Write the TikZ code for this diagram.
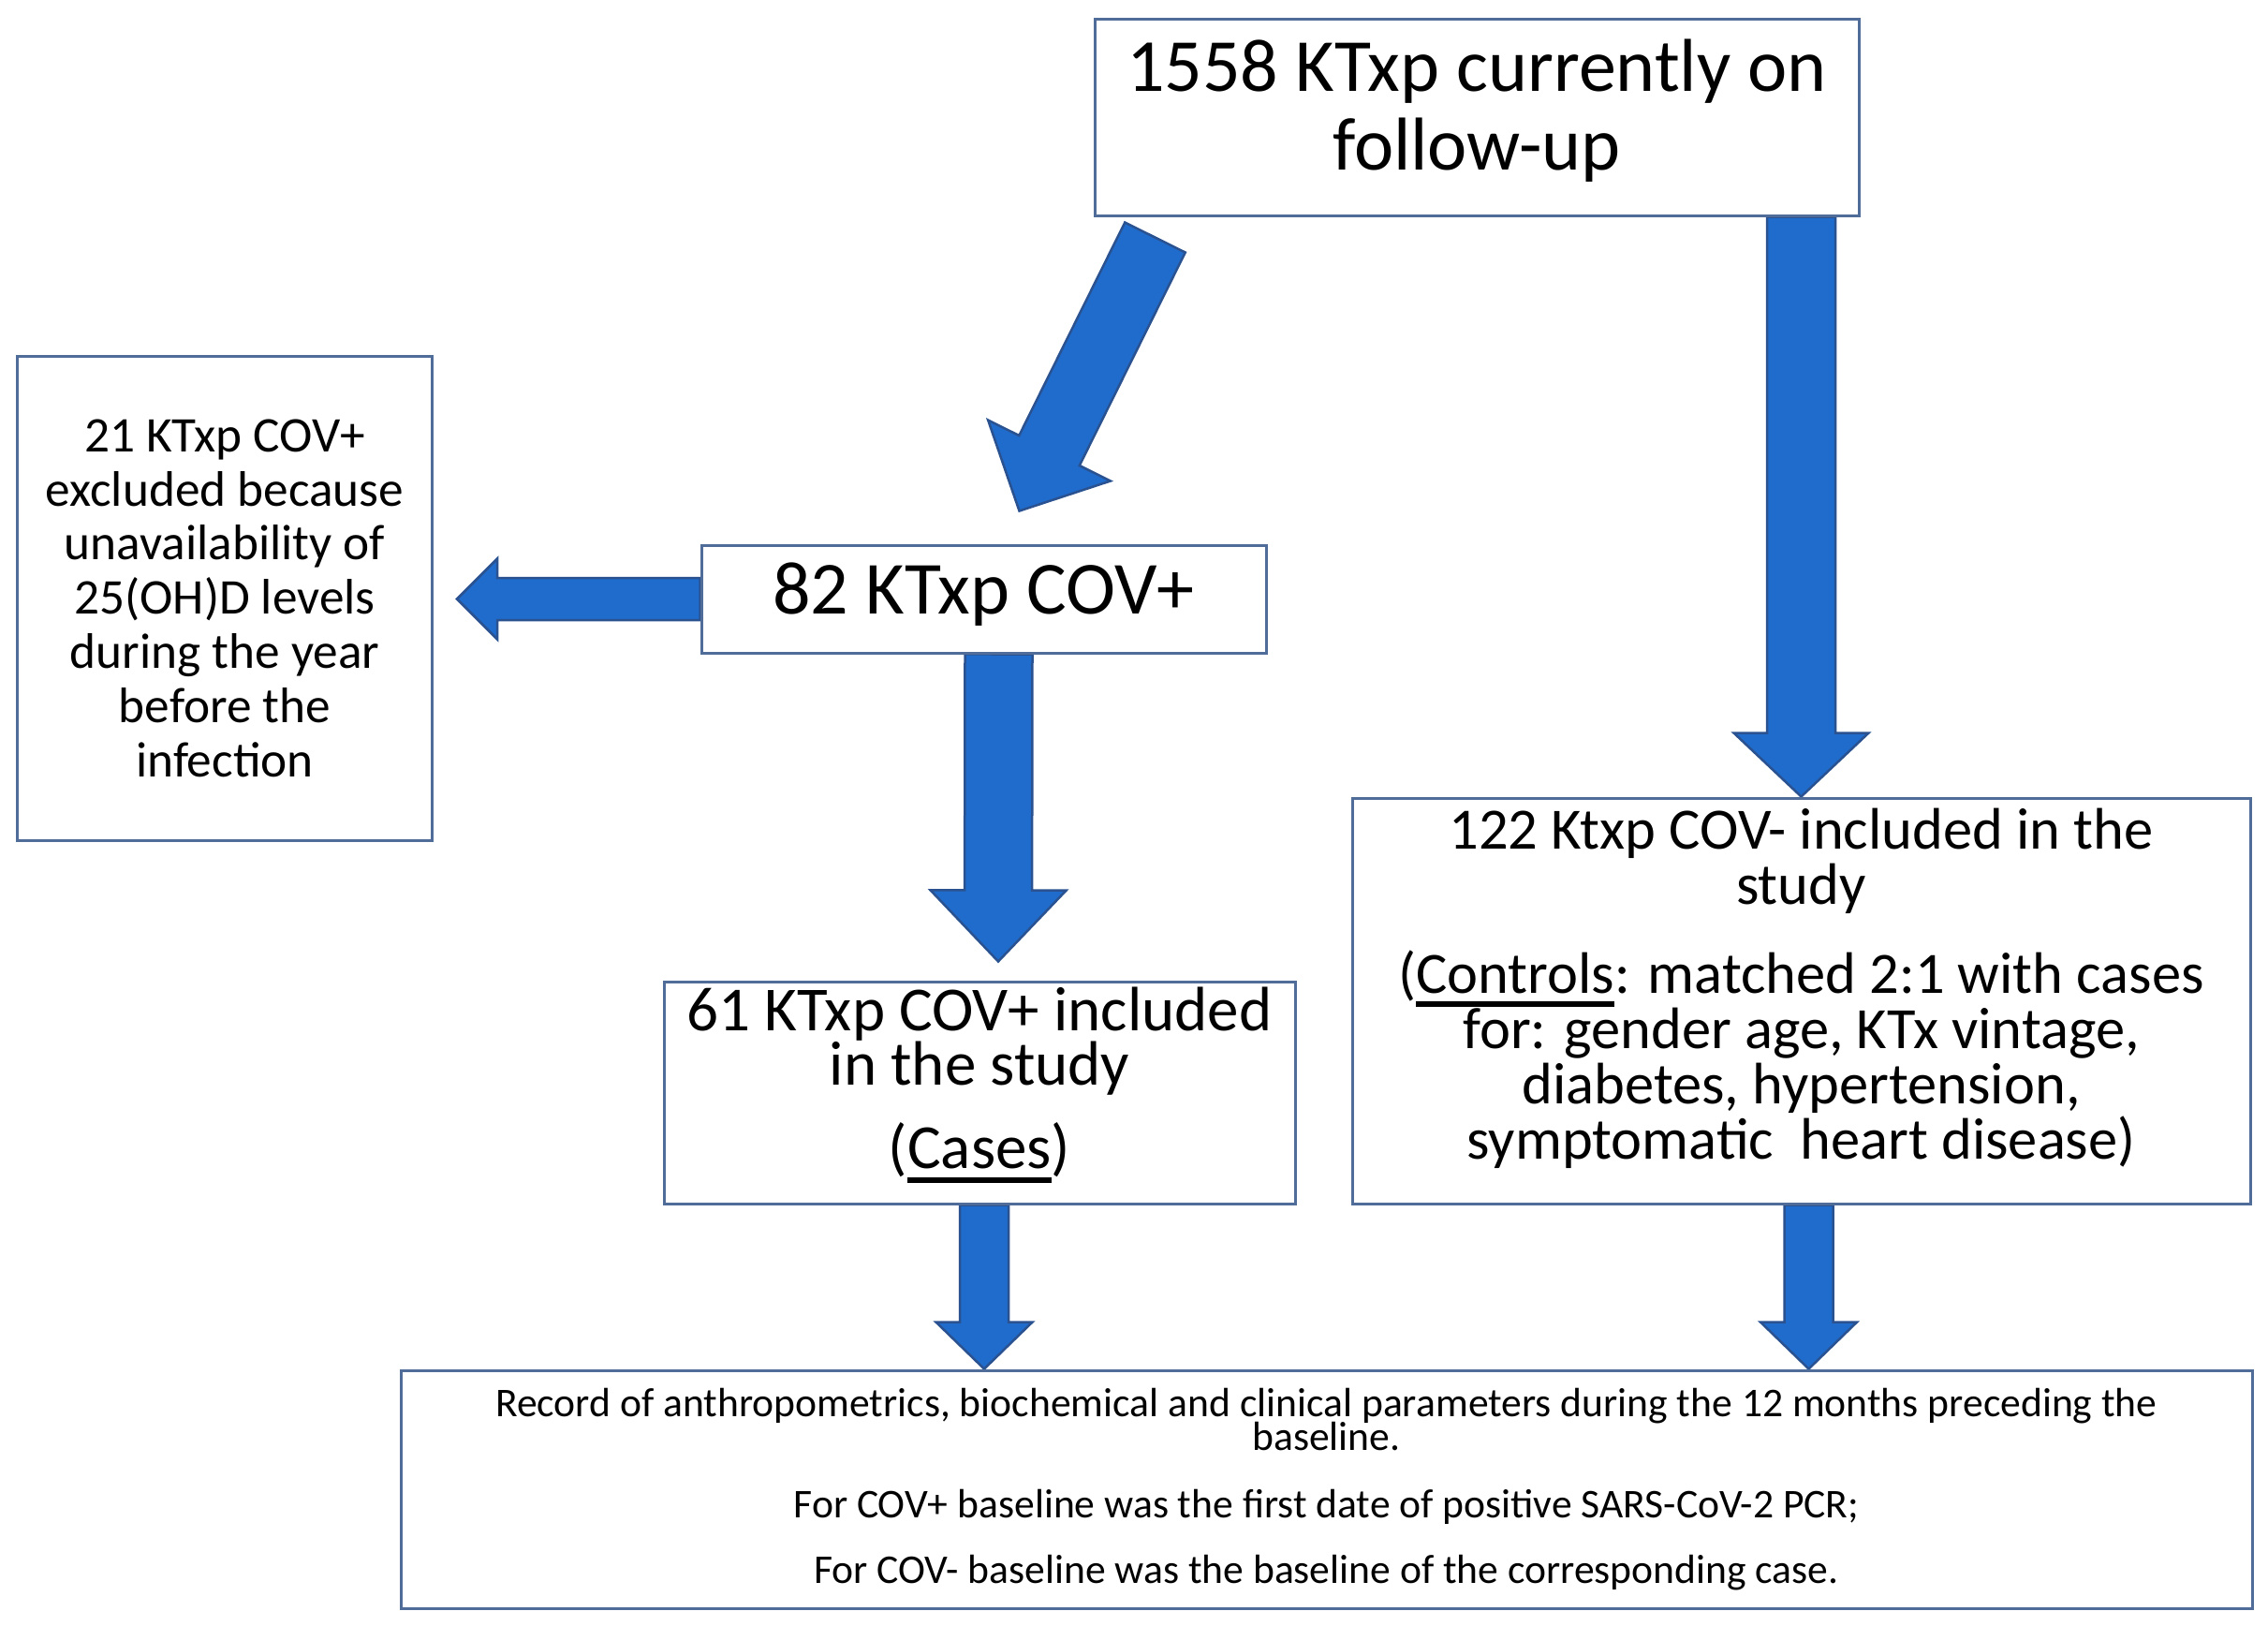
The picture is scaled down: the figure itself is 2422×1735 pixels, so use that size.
\documentclass[tikz,border=0pt]{standalone}
\usepackage{fontspec}
\setmainfont{Carlito}
\usetikzlibrary{calc}
\pgfdeclarelayer{back}
\pgfdeclarelayer{bg}
\pgfsetlayers{back,bg,main}
\definecolor{arrowblue}{RGB}{31,108,204}
\definecolor{arrowedge}{RGB}{42,82,145}
\definecolor{boxedge}{RGB}{80,108,152}
\newcommand\ulin[1]{\setbox0=\hbox{#1}\rlap{\rule[-0.24em]{\wd0}{0.1em}}\box0}
\newcommand\lowstrut[1]{\rule[-#1]{0pt}{0pt}}
\newcommand\blockarrow[5]{% start, tip, half shaft, half head, head length
  \coordinate (ba-n) at ($(#2)!#5!(#1)$);
  \path[arrowfill] ($(#1)!#3!90:(#2)$) -- ($(ba-n)!#3!90:(#2)$) -- ($(ba-n)!#4!90:(#2)$) -- (#2)
    -- ($(ba-n)!#4!-90:(#2)$) -- ($(ba-n)!#3!-90:(#2)$) -- ($(#1)!#3!-90:(#2)$) -- cycle;
}
\begin{document}
\begin{tikzpicture}[x=1pt,y=-1pt,
  box/.style={draw=boxedge,line width=3pt,fill=white,inner sep=0pt,align=center,text=black},
  arrowfill/.style={fill=arrowblue,draw=arrowedge,line width=2.5pt,line join=miter}]
\useasboundingbox (0,0) rectangle (2422,1735);
\begin{pgfonlayer}{back}
  \fill[white] (0,0) rectangle (2422,1735);
\end{pgfonlayer}

\node[box,minimum width=816pt,minimum height=210pt,
  font={\fontsize{80}{84}\selectfont\lineskiplimit=-100pt}] (top) at (1577,125)
  {1558 KTxp currently on\\follow-up\lowstrut{26pt}};

\node[box,minimum width=443pt,minimum height=517pt,
  font={\fontsize{53.3}{57.8}\selectfont\lineskiplimit=-100pt}] (excl) at (240,638.5)
  {21 KTxp COV+\\excluded because\\unavailability of\\25(OH)D levels\\during the year\\before the\\infection};

\node[box,minimum width=603pt,minimum height=115pt,
  font={\fontsize{80}{84}\selectfont}] (cov) at (1050.5,639.5) {82 KTxp COV+\lowstrut{22pt}};

\node[box,minimum width=674pt,minimum height=237pt,
  font={\fontsize{67}{58}\selectfont\lineskiplimit=-100pt}] (cases) at (1046,1166.5)
  {61 KTxp COV+ included\\in the study\\[31pt](\ulin{Cases})\lowstrut{32pt}};

\node[box,minimum width=959pt,minimum height=433pt,
  font={\fontsize{62.5}{59}\selectfont\lineskiplimit=-100pt}] (ctl) at (1923.5,1068.5)
  {122 Ktxp COV- included in the\\study\\[36pt](\ulin{Controls}: matched 2:1 with cases\\for: gender age, KTx vintage,\\diabetes, hypertension,\\symptomatic~ heart disease)\lowstrut{37pt}};

\node[box,minimum width=1977pt,minimum height=254pt,
  font={\fontsize{43.6}{36}\selectfont\lineskiplimit=-100pt}] (rec) at (1416.5,1590)
  {Record of anthropometrics, biochemical and clinical parameters during the 12 months preceding the\\baseline.\\[36pt]For COV+ baseline was the first date of positive SARS-CoV-2 PCR;\\[34pt]For COV- baseline was the baseline of the corresponding case.};

\begin{pgfonlayer}{bg}
  \coordinate (d1s) at ($(top.south west)+(66pt,-22pt)$);
  \coordinate (d1t) at ($(cov.north west)+(341pt,35pt)$);
  \blockarrow{d1s}{d1t}{36pt}{73pt}{72pt}

  \coordinate (r1s) at (top.south -| ctl.north);
  \blockarrow{r1s}{ctl.north}{36.5pt}{72pt}{68pt}

  \coordinate (l1t) at ($(excl.east |- cov.west)+(25pt,0pt)$);
  \blockarrow{cov.west}{l1t}{22.5pt}{43pt}{43pt}

  \coordinate (c1s) at ($(cov.south)+(16pt,0pt)$);
  \coordinate (c1t) at ($(cases.north)+(20pt,20pt)$);
  \blockarrow{c1s}{c1t}{36pt}{72.5pt}{76pt}

  \coordinate (c2s) at ($(cases.south)+(5pt,0pt)$);
  \coordinate (c2t) at (c2s |- rec.north);
  \blockarrow{c2s}{c2t}{26pt}{51.5pt}{50pt}

  \coordinate (c3s) at ($(ctl.south)+(8pt,0pt)$);
  \coordinate (c3t) at (c3s |- rec.north);
  \blockarrow{c3s}{c3t}{26pt}{51.5pt}{50pt}
\end{pgfonlayer}
\end{tikzpicture}
\end{document}
